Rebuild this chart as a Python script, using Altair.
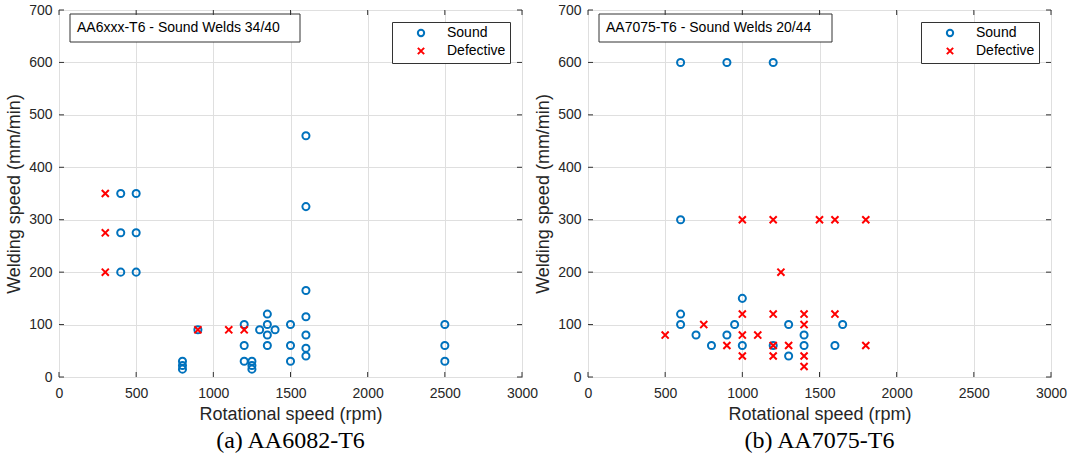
import altair as alt
import pandas as pd

# ---- data ----
left_sound_x = [400, 500, 400, 500, 400, 500,
                1600, 1600, 1600, 1600, 1600, 1600, 1600,
                800, 800, 800, 900,
                1200, 1200, 1200, 1250, 1250, 1250,
                1300, 1350, 1350, 1350, 1350, 1400,
                1500, 1500, 1500, 2500, 2500, 2500]
left_sound_y = [350, 350, 275, 275, 200, 200,
                460, 325, 165, 115, 80, 55, 40,
                30, 22, 15, 90,
                100, 60, 30, 30, 22, 15,
                90, 120, 100, 80, 60, 90,
                100, 60, 30, 100, 60, 30]
left_def_x = [300, 300, 300, 900, 1100, 1200]
left_def_y = [350, 275, 200, 90, 90, 90]

right_sound_x = [600, 900, 1200, 600, 600, 600, 700, 800, 900, 950,
                 1000, 1000, 1200, 1300, 1300, 1400, 1400, 1600, 1650]
right_sound_y = [600, 600, 600, 300, 120, 100, 80, 60, 80, 100,
                 150, 60, 60, 100, 40, 80, 60, 60, 100]
right_def_x = [1000, 1200, 1500, 1600, 1800, 1250, 500, 750, 900, 1000,
               1000, 1000, 1100, 1200, 1200, 1200, 1300, 1400, 1400, 1400,
               1400, 1600, 1800]
right_def_y = [300, 300, 300, 300, 300, 200, 80, 100, 60, 120,
               80, 40, 80, 120, 60, 40, 60, 120, 100, 40,
               20, 120, 60]

x_ticks = [0, 500, 1000, 1500, 2000, 2500, 3000]
y_ticks = [0, 100, 200, 300, 400, 500, 600, 700]
status_names = ["Sound", "Defective"]

# ---- style ----
W, H = 463, 367
BLUE = "#0072BD"
RED = "#FF0000"
FRAME = "#333333"
SANS = "Liberation Sans"
XPATH = "M-1,-1L1,1M-1,1L1,-1"


def panel(sx, sy, dx, dy, box_text, box_w, caption):
    df = pd.DataFrame({
        "rpm": sx + dx,
        "speed": sy + dy,
        "status": ["Sound"] * len(sx) + ["Defective"] * len(dx),
    })
    xs = alt.Scale(domain=[0, 3000], nice=False, zero=False)
    ys = alt.Scale(domain=[0, 700], nice=False, zero=False)
    xax = alt.Axis(values=x_ticks, title="Rotational speed (rpm)", format="d")
    yax = alt.Axis(values=y_ticks, title="Welding speed (mm/min)", format="d")
    leg = alt.Legend(
        title=None, orient="top-right", offset=12,
        strokeColor=FRAME, fillColor="white", padding=4,
        cornerRadius=0, labelFont=SANS, labelFontSize=14, labelColor="black",
        symbolStrokeWidth=2, symbolSize=40, rowPadding=2,
        symbolOffset=18, labelOffset=19,
    )
    pts = alt.Chart(df).mark_point(filled=False, size=50, strokeWidth=2, opacity=1).encode(
        x=alt.X("rpm:Q", scale=xs, axis=xax),
        y=alt.Y("speed:Q", scale=ys, axis=yax),
        color=alt.Color("status:N",
                        scale=alt.Scale(domain=status_names, range=[BLUE, RED]),
                        legend=leg),
        shape=alt.Shape("status:N",
                        scale=alt.Scale(domain=status_names, range=["circle", XPATH]),
                        legend=leg),
    )
    xt = pd.DataFrame({"rpm": x_ticks})
    yt = pd.DataFrame({"speed": y_ticks})
    tb = alt.Chart(xt).mark_rule(color=FRAME, strokeWidth=1).encode(
        x=alt.X("rpm:Q", scale=xs, axis=xax), y=alt.value(H), y2=alt.value(H - 5))
    tt = alt.Chart(xt).mark_rule(color=FRAME, strokeWidth=1).encode(
        x=alt.X("rpm:Q", scale=xs, axis=xax), y=alt.value(0), y2=alt.value(5))
    tl = alt.Chart(yt).mark_rule(color=FRAME, strokeWidth=1).encode(
        y=alt.Y("speed:Q", scale=ys, axis=yax), x=alt.value(0), x2=alt.value(5))
    tr = alt.Chart(yt).mark_rule(color=FRAME, strokeWidth=1).encode(
        y=alt.Y("speed:Q", scale=ys, axis=yax), x=alt.value(W), x2=alt.value(W - 5))

    tdf = pd.DataFrame({"t": [box_text]})
    box = alt.Chart(tdf).mark_rect(fill="white", stroke=FRAME, strokeWidth=1).encode(
        x=alt.value(11), x2=alt.value(11 + box_w), y=alt.value(4), y2=alt.value(32))
    txt = alt.Chart(tdf).mark_text(align="left", baseline="middle", font=SANS,
                                   fontSize=14, color="black").encode(
        x=alt.value(18), y=alt.value(18), text="t:N")
    cdf = pd.DataFrame({"c": [caption]})
    cap = alt.Chart(cdf).mark_text(align="center", baseline="middle",
                                   font="Liberation Serif", fontSize=24,
                                   color="black").encode(
        x=alt.value(W / 2), y=alt.value(H + 64), text="c:N")
    return alt.layer(pts, box, txt, tb, tt, tl, tr, cap).properties(width=W, height=H)


left = panel(left_sound_x, left_sound_y, left_def_x, left_def_y,
             "AA6xxx-T6 - Sound Welds 34/40", 230, "(a) AA6082-T6")
right = panel(right_sound_x, right_sound_y, right_def_x, right_def_y,
              "AA7075-T6 - Sound Welds 20/44", 233, "(b) AA7075-T6")

chart = alt.hconcat(left, right, spacing=66, bounds="flush").resolve_scale(
    color="independent", shape="independent"
).resolve_legend(
    color="independent", shape="independent"
).configure_axis(
    labelFont=SANS, labelFontSize=14, labelColor="#262626",
    titleFont=SANS, titleFontSize=18, titleFontWeight="normal", titleColor="#262626",
    grid=True, gridColor="#dfdfdf", gridWidth=1, domain=False, ticks=False,
).configure_axisX(
    labelPadding=9, titlePadding=5, labelFlush=False, labelOverlap=False,
).configure_axisY(
    labelPadding=7, titlePadding=5, labelOverlap=False,
).configure_view(
    stroke=FRAME, strokeWidth=1,
).properties(
    padding={"left": 5, "top": 2, "right": 0, "bottom": 0},
    background="white",
)

chart.save("out.html", embed_options={"renderer": "svg", "actions": False})
